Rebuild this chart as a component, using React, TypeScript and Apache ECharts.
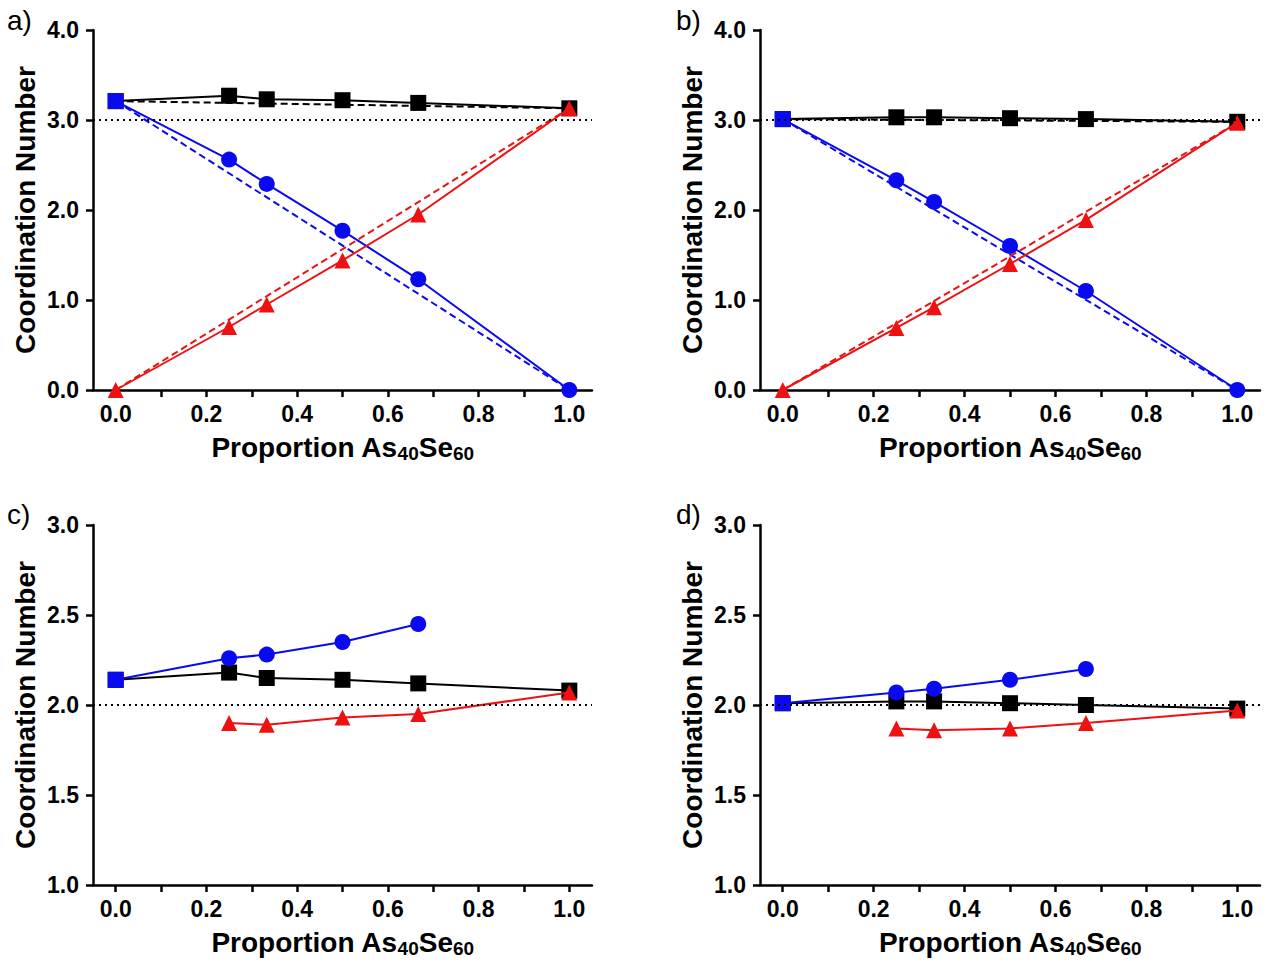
import React, { useEffect, useRef } from "react";
import * as echarts from "echarts";

// x positions (proportion As40Se60)
const xAll = [0, 0.25, 0.333, 0.5, 0.667, 1.0];
const xNoEnd = [0, 0.25, 0.333, 0.5, 0.667];
const xNoStart = [0.25, 0.333, 0.5, 0.667, 1.0];
const xEnds = [0, 1.0];

// panel a
const aTotal = [3.21, 3.27, 3.23, 3.22, 3.19, 3.13];
const aBlue = [3.21, 2.56, 2.29, 1.77, 1.23, 0.0];
const aRed = [0.0, 0.7, 0.95, 1.44, 1.95, 3.13];
const aTotalLin = [3.21, 3.13];
const aBlueLin = [3.21, 0.0];
const aRedLin = [0.0, 3.13];

// panel b
const bTotal = [3.01, 3.03, 3.03, 3.02, 3.01, 2.98];
const bBlue = [3.01, 2.33, 2.09, 1.6, 1.1, 0.0];
const bRed = [0.0, 0.69, 0.92, 1.4, 1.89, 2.97];
const bTotalLin = [3.01, 2.98];
const bBlueLin = [3.01, 0.0];
const bRedLin = [0.0, 2.97];

// panel c
const cTotal = [2.14, 2.18, 2.15, 2.14, 2.12, 2.08];
const cBlue = [2.14, 2.26, 2.28, 2.35, 2.45];
const cRed = [1.9, 1.89, 1.93, 1.95, 2.07];

// panel d
const dTotal = [2.01, 2.02, 2.02, 2.01, 2.0, 1.98];
const dBlue = [2.01, 2.07, 2.09, 2.14, 2.2];
const dRed = [1.87, 1.86, 1.87, 1.9, 1.97];

const xTicks = [0, 0.1, 0.2, 0.3, 0.4, 0.5, 0.6, 0.7, 0.8, 0.9, 1.0];
const xLabels = [0, 0.2, 0.4, 0.6, 0.8, 1.0];
const panelLetters = ["a)", "b)", "c)", "d)"];

const FONT = "'Liberation Sans', Arial, sans-serif";
const BLUE = "#0a0af0";
const RED = "#ee1111";
const BLACK = "#000000";

const zip = (xs: number[], ys: number[]) => xs.map((x, i) => [x, ys[i]]);

export default function App() {
  const ref = useRef<HTMLDivElement>(null);
  useEffect(() => {
    document.body.style.margin = "0";
    if (!ref.current) return;
    const chart = echarts.init(ref.current, null, { renderer: "svg" });

    const grids = [
      { left: 93, top: 30, width: 499, height: 360 },
      { left: 760, top: 30, width: 500, height: 360 },
      { left: 93, top: 525, width: 499, height: 360 },
      { left: 760, top: 525, width: 500, height: 360 },
    ];

    const axisLine = { show: true, onZero: false, lineStyle: { color: BLACK, width: 2.5 } };

    const xAxes = grids.map((_, i) => ({
      type: "value",
      gridIndex: i,
      min: -0.05,
      max: 1.05,
      axisLine,
      splitLine: { show: false },
      axisTick: { show: true, length: 7, lineStyle: { width: 2.5, color: BLACK }, customValues: xTicks },
      axisLabel: {
        customValues: xLabels,
        formatter: (v: number) => v.toFixed(1),
        fontFamily: FONT,
        fontWeight: "bold",
        fontSize: 23,
        color: BLACK,
        margin: 12,
      },
      name: "Proportion As{s|40}Se{s|60}",
      nameLocation: "middle",
      nameGap: 41,
      nameTextStyle: {
        fontFamily: FONT,
        fontWeight: "bold",
        fontSize: 28,
        color: BLACK,
        rich: {
          s: { fontFamily: FONT, fontWeight: "bold", fontSize: 19, color: BLACK, padding: [13, 0, 0, 0] },
        },
      },
    }));

    const yAxes = grids.map((_, i) => ({
      type: "value",
      gridIndex: i,
      min: i < 2 ? 0 : 1,
      max: i < 2 ? 4 : 3,
      interval: i < 2 ? 1 : 0.5,
      axisLine,
      splitLine: { show: false },
      axisTick: { show: true, length: 7, lineStyle: { width: 2.5, color: BLACK } },
      axisLabel: {
        formatter: (v: number) => v.toFixed(1),
        fontFamily: FONT,
        fontWeight: "bold",
        fontSize: 23,
        color: BLACK,
        margin: 14,
      },
      name: "Coordination Number",
      nameLocation: "middle",
      nameGap: 54,
      nameTextStyle: { fontFamily: FONT, fontWeight: "bold", fontSize: 28, color: BLACK },
    }));

    const refLine = (y: number) => ({
      silent: true,
      symbol: "none",
      label: { show: false },
      lineStyle: { type: [2, 4], color: BLACK, width: 2 },
      data: [{ yAxis: y }],
    });

    const solid = (i: number, data: any[], color: string, symbol: string, size: number, z: number, ml?: any) => ({
      type: "line",
      xAxisIndex: i,
      yAxisIndex: i,
      data,
      symbol,
      symbolSize: size,
      showAllSymbol: true,
      lineStyle: { color, width: 2, type: "solid" },
      itemStyle: { color },
      z,
      markLine: ml,
    });
    const dashed = (i: number, data: any[], color: string) => ({
      type: "line",
      xAxisIndex: i,
      yAxisIndex: i,
      data,
      symbol: "none",
      lineStyle: { color, width: 2, type: [7, 4] },
      z: 1,
    });

    const blueData = (xs: number[], ys: number[]) =>
      zip(xs, ys).map((p, k) => (k === 0 && xs[0] === 0 ? { value: p, symbol: "rect", symbolSize: 16 } : { value: p }));

    const series: any[] = [
      // panel a
      dashed(0, zip(xEnds, aTotalLin), BLACK),
      dashed(0, zip(xEnds, aBlueLin), BLUE),
      dashed(0, zip(xEnds, aRedLin), RED),
      solid(0, zip(xAll, aTotal), BLACK, "rect", 16, 2, refLine(3)),
      solid(0, blueData(xAll, aBlue), BLUE, "circle", 16, 3),
      solid(0, zip(xAll, aRed), RED, "triangle", 16, 4),
      // panel b
      dashed(1, zip(xEnds, bTotalLin), BLACK),
      dashed(1, zip(xEnds, bBlueLin), BLUE),
      dashed(1, zip(xEnds, bRedLin), RED),
      solid(1, zip(xAll, bTotal), BLACK, "rect", 16, 2, refLine(3)),
      solid(1, blueData(xAll, bBlue), BLUE, "circle", 16, 3),
      solid(1, zip(xAll, bRed), RED, "triangle", 16, 4),
      // panel c
      solid(2, zip(xAll, cTotal), BLACK, "rect", 16, 2, refLine(2)),
      solid(2, blueData(xNoEnd, cBlue), BLUE, "circle", 16, 3),
      solid(2, zip(xNoStart, cRed), RED, "triangle", 16, 4),
      // panel d
      solid(3, zip(xAll, dTotal), BLACK, "rect", 16, 2, refLine(2)),
      solid(3, blueData(xNoEnd, dBlue), BLUE, "circle", 16, 3),
      solid(3, zip(xNoStart, dRed), RED, "triangle", 16, 4),
    ];

    const letterPos = [
      [7, 6],
      [676, 6],
      [7, 500],
      [676, 500],
    ];

    chart.setOption({
      animation: false,
      backgroundColor: "#ffffff",
      grid: grids,
      xAxis: xAxes,
      yAxis: yAxes,
      series,
      graphic: panelLetters.map((t, i) => ({
        type: "text",
        x: letterPos[i][0],
        y: letterPos[i][1],
        style: { text: t, fontFamily: FONT, fontSize: 28, fill: BLACK },
      })),
    });
    return () => chart.dispose();
  }, []);
  return <div ref={ref} style={{ width: 1266, height: 966 }} />;
}
